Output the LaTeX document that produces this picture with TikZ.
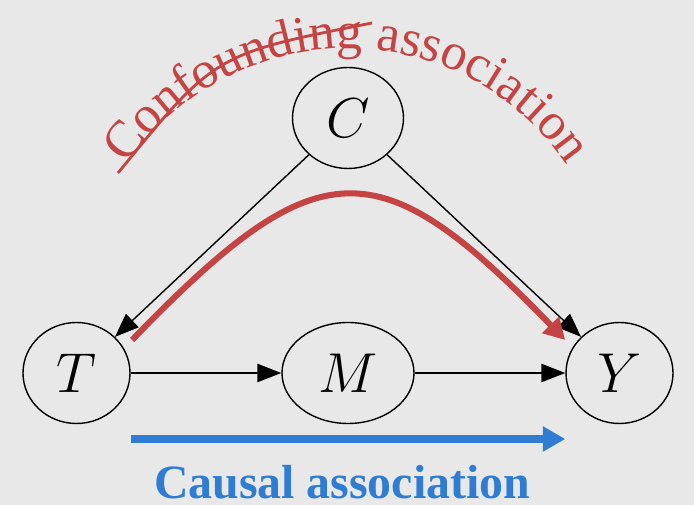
\RequirePackage{fix-cm}
\documentclass[tikz,border=0pt]{standalone}
\usepackage{fontspec}
\setmainfont{Liberation Serif}
\usepackage{tikz}
\usetikzlibrary{positioning, arrows.meta, shapes.geometric, calc, decorations.text}

\definecolor{confred}{RGB}{197,68,67}
\definecolor{causalblue}{RGB}{46,125,210}
\definecolor{slidegray}{RGB}{232,232,232}

\newcommand{\arcfont}{\fontsize{37}{44}\selectfont}

\tikzset{
  var/.style={ellipse, draw, line width=1pt, minimum height=2.525cm, inner sep=0pt, font=\fontsize{40}{48}\selectfont},
  dag/.style={line width=1pt, -{Triangle[length=17pt, width=13pt]}},
}

\begin{document}
\begin{tikzpicture}

\fill[slidegray] (0,0) rectangle (17.35,12.625);
\useasboundingbox (0,0) rectangle (17.35,12.625);

\node[var, minimum width=2.775cm] (C) at (8.7, 9.675) {$C$};
\node[var, minimum width=2.675cm] (T) at (1.9125, 3.3) {$T$};
\node[var, minimum width=3.3cm] (M) at (8.7, 3.3) {$M$};
\node[var, minimum width=2.675cm] (Y) at (15.4875, 3.3) {$Y$};

\draw[dag] (C) -- (T);
\draw[dag] (C) -- (Y);
\draw[dag] (T) -- (M);
\draw[dag] (M) -- (Y);

% backdoor path through C
\coordinate (bdStart) at ($(T)+(1.39,0.825)$);
\coordinate (bdEnd) at ($(Y)+(-1.36,0.825)$);
\draw[confred, line width=4.3pt, -{Triangle[length=15pt, width=16pt]}] (bdStart) to[out=46, in=134, looseness=1.59] (bdEnd);

\path[decorate, decoration={text along path, text align=center, text color=confred,
  text={|\arcfont|Confounding association}}]
  ($(8.675,4.75)+(165:6.66)$) arc[start angle=165, end angle=15, radius=6.66];
\draw[confred, line width=2pt] (2.95,8.3) .. controls (5.375,11.275) .. (9.3,12.05);

% direct path
\coordinate (caStart) at ($(T.east)+(0,-1.65)$);
\coordinate (caEnd) at ($(Y.west)+(0,-1.65)$);
\draw[causalblue, line width=5pt, -{Triangle[length=16pt, width=17pt]}] (caStart) -- (caEnd);
\node[causalblue, font=\bfseries\fontsize{34}{40}\selectfont, anchor=base] (causal) at (8.55,0.15) {Causal association};

\end{tikzpicture}
\end{document}
